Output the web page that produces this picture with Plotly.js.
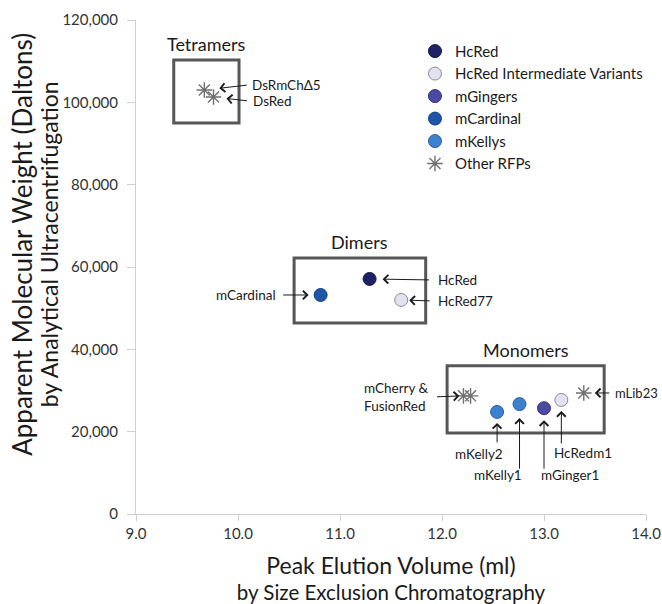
<!DOCTYPE html>
<html>
<head>
<meta charset="utf-8">
<script src="https://cdn.plot.ly/plotly-3.0.1.min.js"></script>
<style>html,body{margin:0;padding:0;background:#fff;}#chart{width:662px;height:604px;}</style>
</head>
<body>
<div id="chart"></div>
<script>
// ---- data ----
var hcRedNames = ["HcRed"];
var hcRedX = [11.29];
var hcRedY = [57100];

var intermNames = ["HcRed77", "HcRedm1"];
var intermX = [11.60, 13.17];
var intermY = [52000, 27700];

var gingerNames = ["mGinger1"];
var gingerX = [13.00];
var gingerY = [25700];

var cardinalNames = ["mCardinal"];
var cardinalX = [10.81];
var cardinalY = [53200];

var kellyNames = ["mKelly2", "mKelly1"];
var kellyX = [12.54, 12.76];
var kellyY = [24800, 26700];

var otherNames = ["DsRmChΔ5", "DsRed", "mCherry", "FusionRed", "mLib23"];
var otherX = [9.67, 9.76, 12.21, 12.28, 13.39];
var otherY = [103000, 101300, 28700, 28700, 29400];

var xTickVals = [9, 10, 11, 12, 13, 14];
var yTickVals = [0, 20000, 40000, 60000, 80000, 100000, 120000];

var xTitle = "Peak Elution Volume (ml)";
var xSubtitle = "by Size Exclusion Chromatography";
var yTitle = "Apparent Molecular Weight (Daltons)";
var ySubtitle = "by Analytical Ultracentrifugation";

// ---- styling ----
var FONT = "Lato, 'Open Sans', sans-serif";
function circleTrace(name, names, xs, ys, fill, line) {
  return {
    type: "scatter", mode: "markers", name: name,
    x: xs, y: ys, text: names, hoverinfo: "text+x+y",
    marker: {symbol: "circle", size: 13, color: fill, line: {color: line, width: 1}}
  };
}
var traces = [
  circleTrace("HcRed", hcRedNames, hcRedX, hcRedY, "#1e2262", "#15184a"),
  circleTrace("HcRed Intermediate Variants", intermNames, intermX, intermY, "#e2e1f0", "#8a8a98"),
  circleTrace("mGingers", gingerNames, gingerX, gingerY, "#4b4aa3", "#35357f"),
  circleTrace("mCardinal", cardinalNames, cardinalX, cardinalY, "#1d56a8", "#143f80"),
  circleTrace("mKellys", kellyNames, kellyX, kellyY, "#3c80d0", "#2a5fa0"),
  {
    type: "scatter", mode: "markers", name: "Other RFPs",
    x: otherX, y: otherY, text: otherNames, hoverinfo: "text+x+y",
    marker: {symbol: "asterisk-open", size: 13, color: "#707070", line: {color: "#707070", width: 1.4}}
  }
];

// label placement (pixel offsets relative to each point)
var labelCfg = {
  "DsRmChΔ5": {tx: 46, ty: -5, anchor: "left", ax: 44, ay: -5, so: 15},
  "DsRed":     {tx: 37, ty: 4, anchor: "left", ax: 35, ay: 4, so: 13},
  "HcRed":     {tx: 66, ty: 1, anchor: "left", ax: 61, ay: 1, so: 13},
  "HcRed77":   {tx: 35, ty: 1, anchor: "left", ax: 30, ay: 1, so: 8},
  "mCardinal": {tx: -43, ty: 0, anchor: "right", ax: -39, ay: 0, so: 12},
  "mCherry":   {tx: -32, ty: 1, anchor: "right", ax: -28, ay: 1, so: 4, text: "mCherry &<br>FusionRed"},
  "mLib23":    {tx: 29, ty: 0, anchor: "left", ax: 27, ay: 0, so: 11, size: 13},
  "mKelly2":   {tx: -18, ty: 42, anchor: "center", ax: 0, ay: 32, so: 11},
  "mKelly1":   {tx: -22, ty: 71, anchor: "center", ax: 0, ay: 66, so: 14},
  "mGinger1":  {tx: 26, ty: 67, anchor: "center", ax: 0, ay: 62, so: 12},
  "HcRedm1":   {tx: 22, ty: 53, anchor: "center", ax: 0, ay: 45, so: 11}
};

var annotations = [];
var allNames = [].concat(hcRedNames, intermNames, gingerNames, cardinalNames, kellyNames, otherNames);
var allX = [].concat(hcRedX, intermX, gingerX, cardinalX, kellyX, otherX);
var allY = [].concat(hcRedY, intermY, gingerY, cardinalY, kellyY, otherY);
allNames.forEach(function (n, i) {
  var c = labelCfg[n];
  if (!c) return;
  annotations.push({
    x: allX[i], y: allY[i], xref: "x", yref: "y", text: "", showarrow: true,
    ax: c.ax, ay: c.ay, standoff: c.so, arrowhead: 4, arrowsize: 1.7, arrowwidth: 1,
    arrowcolor: "#1a1a1a"
  });
  annotations.push({
    x: allX[i], y: allY[i], xref: "x", yref: "y", text: c.text || n, showarrow: false,
    xanchor: c.anchor, yanchor: "middle", xshift: c.tx, yshift: -c.ty, align: c.anchor === "right" ? "left" : "center",
    font: {family: FONT, size: c.size || 13.5, color: "#1a1a1a"}
  });
});

// group boxes and titles
var groups = [
  {label: "Tetramers", x0: 9.37, x1: 10.01, y0: 95000, y1: 110300},
  {label: "Dimers", x0: 10.55, x1: 11.84, y0: 46400, y1: 62200},
  {label: "Monomers", x0: 12.05, x1: 13.59, y0: 19700, y1: 36000}
];
var shapes = groups.map(function (g) {
  return {type: "rect", xref: "x", yref: "y", x0: g.x0, x1: g.x1, y0: g.y0, y1: g.y1,
          line: {color: "#575757", width: 3}, fillcolor: "rgba(0,0,0,0)", layer: "below"};
});
groups.forEach(function (g) {
  annotations.push({
    x: (g.x0 + g.x1) / 2, y: g.y1, xref: "x", yref: "y", text: g.label, showarrow: false,
    yanchor: "bottom", yshift: 3, font: {family: FONT, size: 18, color: "#1a1a1a"}
  });
});

// y-axis title (two lines, rotated) placed as a paper annotation
annotations.push({
  xref: "paper", yref: "paper", x: -0.2, y: 0.545, xanchor: "center", yanchor: "middle",
  textangle: -90, showarrow: false,
  text: "<span style='font-size:26px'>" + yTitle + "</span><br><span style='font-size:23px'>" + ySubtitle + "</span>",
  font: {family: FONT, size: 19.5, color: "#1a1a1a"}
});

var layout = {
  width: 662, height: 604,
  margin: {l: 136, r: 16, t: 20, b: 90},
  paper_bgcolor: "#ffffff", plot_bgcolor: "#ffffff",
  font: {family: FONT, color: "#222"},
  showlegend: true,
  legend: {x: 0.547, y: 0.97, xanchor: "left", yanchor: "top", traceorder: "normal",
           font: {family: FONT, size: 15, color: "#1a1a1a"},
           bgcolor: "rgba(0,0,0,0)"},
  xaxis: {
    range: [9, 14], tickvals: xTickVals, tickformat: ".1f", automargin: false,
    showgrid: false, zeroline: false, showline: true, linecolor: "#cfcfcf", linewidth: 1,
    ticks: "outside", ticklen: 6, tickcolor: "#cfcfcf",
    tickfont: {family: FONT, size: 15, color: "#333"},
    title: {text: "<span style='font-size:23px'>" + xTitle + "</span><br><span style='font-size:20.5px'>" + xSubtitle + "</span>",
            font: {family: FONT, size: 20, color: "#1a1a1a"}, standoff: 20}
  },
  yaxis: {
    range: [0, 120000], tickvals: yTickVals, tickformat: ",", automargin: false,
    showgrid: false, zeroline: false, showline: true, linecolor: "#cfcfcf", linewidth: 1,
    ticks: "outside", ticklen: 8, tickcolor: "#cfcfcf", ticklabelstandoff: 6,
    tickfont: {family: FONT, size: 15, color: "#333"}
  },
  shapes: shapes,
  annotations: annotations
};

Plotly.newPlot("chart", traces, layout, {displayModeBar: false, staticPlot: true});
</script>
</body>
</html>
